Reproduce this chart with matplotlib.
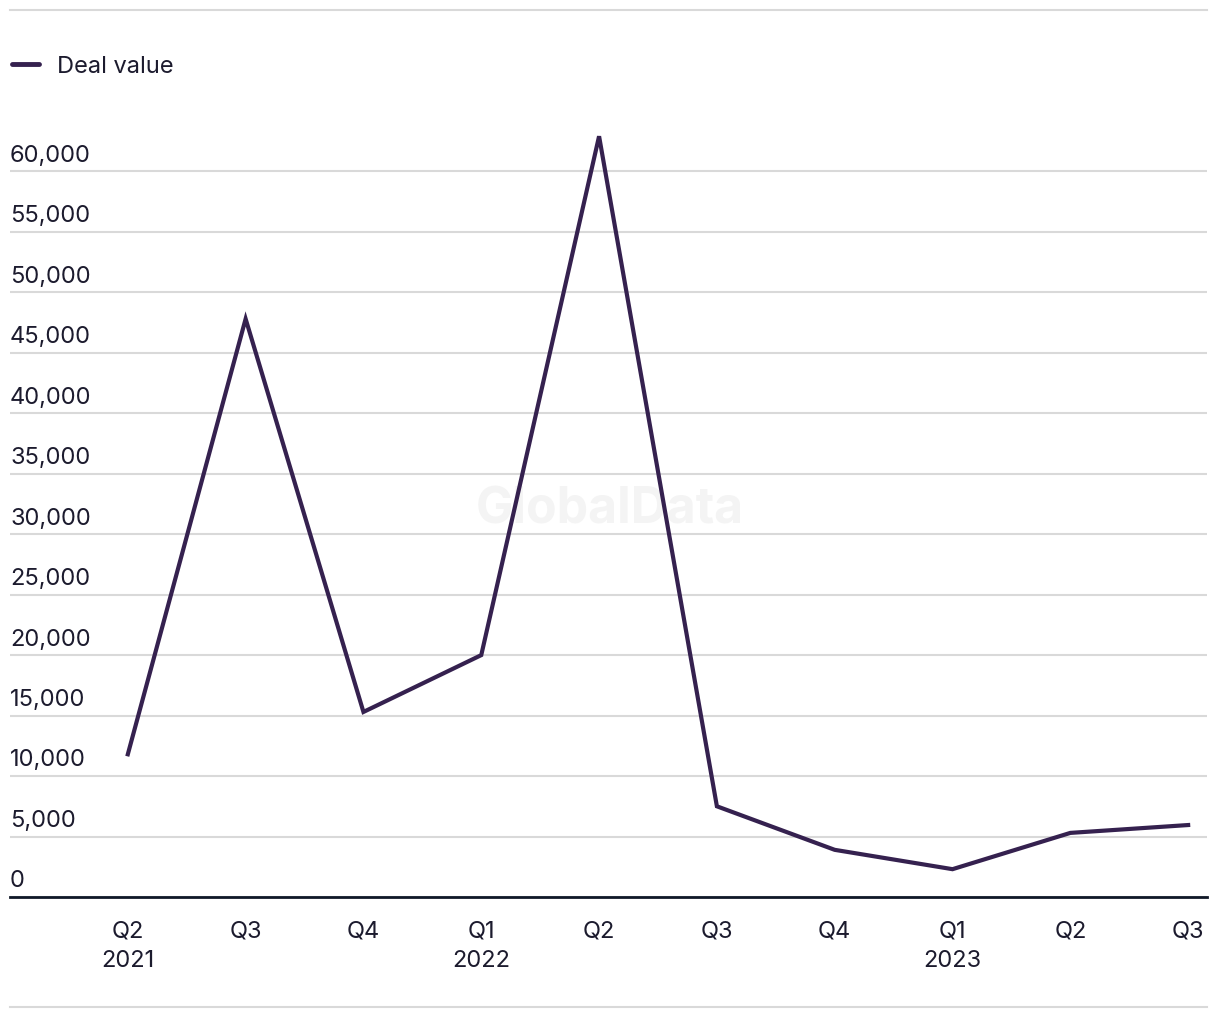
import matplotlib.pyplot as plt
import matplotlib.transforms as mtransforms
from matplotlib.lines import Line2D

quarters = ["Q2\n2021", "Q3", "Q4", "Q1\n2022", "Q2", "Q3", "Q4", "Q1\n2023", "Q2", "Q3"]
deal_value = [11800, 47800, 15300, 20000, 62900, 7500, 3900, 2300, 5300, 5950]
y_ticks = [0, 5000, 10000, 15000, 20000, 25000, 30000, 35000, 40000, 45000, 50000, 55000, 60000]

LINE = "#35214f"
TEXT = "#1c1b2e"
GRID = "#d9d9d9"

plt.rcParams["font.family"] = ["Inter", "DejaVu Sans"]

fig = plt.figure(figsize=(12.2, 10.2), dpi=100)
ax = fig.add_axes([10 / 1220, 1 - 898 / 1020, 1197 / 1220, 768 / 1020])

x = list(range(len(quarters)))
ax.plot(x, deal_value, color=LINE, linewidth=3, solid_joinstyle="miter", zorder=3,
        label="Deal value")

ax.set_xlim(-1.0, 9.16)
ax.set_ylim(0, 63500)

# gridlines + labels sitting above them
ax.set_yticks(y_ticks)
ax.yaxis.grid(True, color=GRID, linewidth=1.5)
ax.set_axisbelow(True)
ax.tick_params(axis="y", length=0, labelleft=False)
trans = mtransforms.blended_transform_factory(ax.transAxes, ax.transData)
off = mtransforms.offset_copy(trans, fig=fig, x=0, y=4, units="points")
for v in y_ticks:
    ax.text(0, v, f"{v:,}", transform=off, ha="left", va="bottom",
            fontsize=17, color=TEXT)

ax.set_xticks(x)
ax.set_xticklabels(quarters, fontsize=17, color=TEXT, linespacing=1.45)
ax.tick_params(axis="x", length=0, pad=16)

for s in ["top", "right", "left"]:
    ax.spines[s].set_visible(False)
ax.spines["bottom"].set_color("#101828")
ax.spines["bottom"].set_linewidth(2)

# watermark
ax.text(0.5, 0.5, "GlobalData", transform=fig.transFigure, ha="center", va="center",
        fontsize=36, fontweight="bold", color="#f4f4f4", zorder=1)

# legend
fig.legend(handles=[Line2D([], [], color=LINE, linewidth=3.5, solid_capstyle="round")],
           labels=["Deal value"], loc="center left", bbox_to_anchor=(12.4 / 1220, 1 - 67 / 1020),
           frameon=False, fontsize=17, handlelength=1.11, handletextpad=0.76,
           borderpad=0, borderaxespad=0, labelcolor=TEXT)

# separator rules at top and bottom
for yy in [1 - 11 / 1020, 1 - 1008 / 1020]:
    fig.add_artist(Line2D([10 / 1220, 1207 / 1220], [yy, yy], transform=fig.transFigure,
                          color=GRID, linewidth=1.5))

fig.savefig("out.png", dpi=100, facecolor="white")
